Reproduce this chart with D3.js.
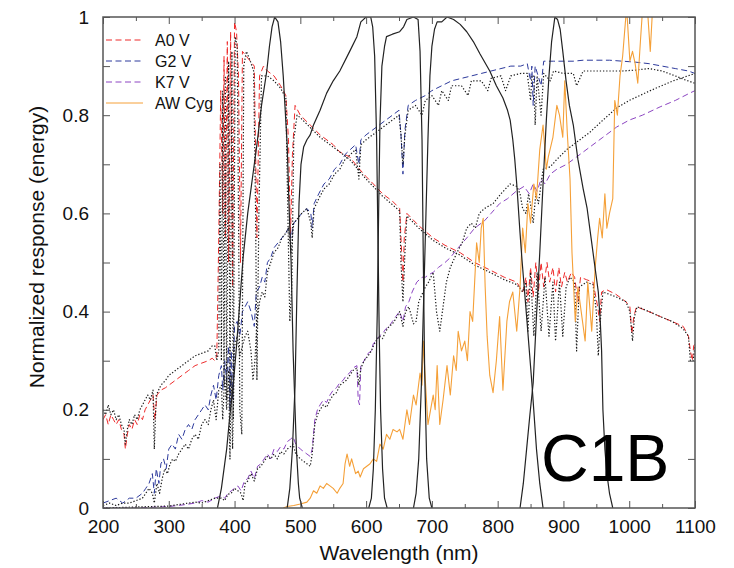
<!DOCTYPE html>
<html>
<head>
<meta charset="utf-8">
<script src="https://cdn.jsdelivr.net/npm/d3@7"></script>
<style>
	body { margin: 0; background: #fff; }
	svg { display: block; font-family: "Liberation Sans", Arial, Helvetica, sans-serif; }
</style>
</head>
<body>
<div id="paper"></div>
<script>
// all series are [wavelength (nm), normalized response]
const a0v = [[200,.18],[204,.19],[208,.17],[212,.19],[216,.18],[220,.17],[224,.18],[228,.16],[232,.15],[234,.12],[237,.15],[240,.17],[244,.16],[248,.18],[252,.17],[256,.19],[260,.18],[264,.20],[268,.21],[272,.22],[276,.23],[279,.18],[282,.23],[288,.24],[295,.245],[300,.25],[310,.26],[320,.27],[330,.28],[340,.29],[350,.295],[360,.30],[366,.305],[370,.30],[373,.31],[376,.55],[379,.85],[382,.60],[384,.92],[386,.55],[389,.95],[391,.50],[394,.97],[397,.45],[400,.99],[403,.97],[406,.88],[409,.50],[412,.93],[418,.92],[424,.91],[430,.90],[434,.55],[438,.88],[444,.90],[450,.89],[460,.88],[470,.86],[478,.84],[482,.75],[485,.55],[488,.72],[492,.82],[500,.80],[515,.78],[530,.76],[550,.74],[560,.725],[575,.715],[590,.69],[600,.675],[611,.66],[625,.64],[640,.625],[651,.61],[654,.52],[656,.46],[658,.55],[662,.60],[680,.575],[702,.55],[720,.535],[743,.52],[765,.50],[788,.485],[810,.47],[829,.46],[838,.44],[843,.47],[846,.42],[850,.49],[854,.43],[858,.50],[862,.44],[866,.50],[870,.45],[875,.50],[879,.46],[884,.49],[888,.44],[893,.49],[897,.45],[902,.48],[906,.46],[912,.48],[917,.47],[922,.42],[926,.47],[935,.465],[945,.46],[952,.41],[955,.38],[958,.44],[965,.445],[980,.435],[995,.42],[1001,.41],[1004,.355],[1007,.39],[1011,.41],[1030,.40],[1047,.39],[1065,.38],[1082,.37],[1090,.35],[1093,.32],[1096,.30],[1098,.33],[1100,.335]];

const a0vRef = [[200,.20],[204,.19],[208,.21],[212,.19],[216,.20],[220,.18],[224,.19],[228,.17],[232,.16],[234,.13],[237,.16],[240,.18],[244,.17],[248,.19],[252,.18],[256,.20],[260,.21],[264,.22],[268,.23],[272,.22],[276,.24],[278,.12],[281,.23],[288,.25],[295,.26],[300,.27],[310,.28],[320,.29],[330,.30],[340,.31],[350,.315],[360,.32],[366,.33],[370,.33],[373,.30],[376,.32],[378,.70],[380,.30],[382,.85],[384,.25],[386,.88],[388,.22],[391,.91],[393,.20],[396,.93],[398,.18],[401,.96],[404,.94],[406,.60],[408,.20],[411,.15],[414,.90],[418,.93],[424,.91],[429,.89],[432,.60],[434,.26],[437,.60],[441,.88],[450,.88],[460,.87],[470,.855],[478,.835],[481,.60],[484,.38],[487,.45],[490,.75],[495,.80],[500,.795],[515,.775],[530,.755],[550,.735],[575,.71],[600,.67],[625,.635],[651,.605],[653,.50],[656,.42],[659,.52],[662,.595],[680,.57],[702,.545],[720,.53],[743,.515],[765,.495],[788,.48],[810,.465],[829,.455],[838,.44],[843,.46],[846,.36],[850,.48],[855,.35],[860,.48],[866,.36],[872,.47],[878,.35],[884,.46],[888,.34],[894,.46],[899,.35],[904,.45],[910,.47],[917,.46],[920,.32],[924,.45],[935,.46],[945,.455],[950,.40],[953,.31],[956,.38],[960,.44],[980,.43],[995,.42],[1001,.40],[1005,.34],[1008,.39],[1012,.41],[1030,.40],[1047,.39],[1065,.38],[1082,.365],[1090,.35],[1093,.30],[1097,.30],[1100,.33]];

const g2v = [[200,.01],[210,.015],[220,.02],[230,.01],[240,.02],[250,.02],[260,.03],[265,.04],[270,.05],[275,.07],[278,.03],[281,.08],[285,.05],[288,.09],[292,.10],[296,.08],[300,.12],[305,.13],[310,.12],[315,.15],[320,.14],[325,.16],[330,.17],[335,.16],[340,.18],[345,.19],[350,.20],[355,.21],[360,.20],[364,.23],[368,.25],[372,.22],[376,.27],[380,.29],[382,.24],[385,.30],[388,.26],[391,.33],[393,.20],[395,.32],[397,.22],[400,.37],[404,.38],[408,.35],[412,.40],[416,.41],[420,.42],[425,.40],[430,.37],[433,.44],[438,.45],[442,.47],[446,.46],[450,.50],[455,.51],[460,.53],[466,.54],[472,.55],[478,.56],[482,.57],[486,.55],[490,.58],[496,.59],[502,.60],[510,.61],[516,.60],[518,.57],[521,.62],[528,.64],[536,.66],[544,.67],[552,.69],[560,.70],[568,.72],[576,.73],[584,.74],[589,.70],[592,.75],[600,.76],[610,.77],[620,.78],[630,.79],[640,.80],[650,.81],[653,.76],[656,.68],[659,.77],[664,.82],[675,.83],[690,.84],[700,.85],[715,.86],[730,.87],[745,.875],[760,.88],[775,.885],[790,.89],[805,.895],[820,.90],[835,.90],[845,.905],[850,.87],[852,.90],[854,.82],[857,.90],[866,.86],[870,.91],[885,.91],[900,.91],[915,.91],[930,.912],[950,.912],[970,.912],[990,.91],[1010,.908],[1030,.905],[1050,.90],[1070,.895],[1090,.89],[1100,.885]];

const g2vRef = [[200,.005],[210,.01],[220,.005],[230,.01],[240,.01],[250,.015],[260,.02],[265,.03],[270,.04],[275,.03],[278,.01],[282,.05],[286,.03],[290,.06],[294,.08],[298,.07],[302,.09],[306,.10],[310,.095],[315,.11],[320,.12],[325,.13],[330,.12],[335,.14],[340,.15],[345,.14],[350,.17],[355,.18],[360,.17],[364,.20],[368,.22],[372,.18],[376,.24],[380,.25],[382,.18],[385,.27],[388,.20],[391,.28],[393,.10],[395,.27],[397,.12],[400,.33],[404,.35],[408,.31],[412,.33],[416,.35],[420,.36],[425,.32],[428,.26],[431,.30],[434,.38],[438,.42],[442,.44],[446,.43],[450,.48],[455,.50],[460,.52],[466,.53],[472,.55],[478,.56],[482,.57],[486,.52],[490,.58],[496,.59],[502,.60],[510,.61],[516,.58],[518,.55],[521,.61],[528,.63],[536,.65],[544,.66],[552,.68],[560,.69],[568,.71],[576,.72],[584,.73],[589,.67],[592,.74],[600,.75],[610,.76],[620,.77],[630,.78],[640,.79],[650,.80],[653,.76],[656,.70],[659,.76],[664,.81],[675,.82],[685,.80],[690,.83],[700,.84],[710,.82],[715,.85],[725,.83],[730,.86],[745,.86],[755,.84],[760,.87],[775,.87],[785,.85],[790,.875],[805,.88],[812,.85],[820,.88],[835,.885],[845,.885],[850,.83],[852,.88],[855,.88],[857,.78],[860,.88],[866,.80],[870,.885],[880,.87],[885,.89],[900,.885],[915,.885],[920,.86],[930,.89],[950,.89],[970,.89],[990,.89],[1010,.892],[1030,.895],[1050,.89],[1070,.88],[1085,.872],[1100,.865]];

const k7v = [[200,0],[250,0],[300,.003],[320,.006],[340,.01],[350,.015],[360,.012],[370,.02],[380,.025],[385,.02],[390,.03],[395,.035],[400,.04],[405,.045],[410,.035],[415,.055],[420,.06],[425,.075],[430,.06],[435,.085],[440,.09],[445,.10],[450,.11],[455,.10],[460,.12],[465,.115],[470,.125],[475,.12],[480,.135],[485,.14],[489,.145],[493,.13],[500,.12],[505,.115],[510,.11],[515,.105],[518,.12],[522,.18],[526,.20],[530,.21],[535,.22],[540,.215],[545,.23],[550,.24],[555,.245],[560,.255],[565,.26],[570,.27],[575,.275],[580,.285],[586,.29],[588,.22],[590,.21],[592,.29],[597,.30],[603,.315],[608,.32],[611,.335],[615,.34],[620,.35],[625,.355],[630,.365],[635,.37],[640,.38],[645,.39],[651,.40],[656,.38],[660,.41],[665,.42],[670,.44],[677,.46],[685,.47],[690,.47],[695,.475],[702,.48],[710,.49],[720,.50],[728,.51],[740,.53],[753,.55],[765,.57],[780,.585],[790,.60],[803,.62],[815,.63],[828,.645],[840,.655],[848,.64],[854,.66],[860,.645],[866,.67],[872,.66],[880,.68],[890,.69],[905,.70],[920,.715],[940,.735],[960,.755],[981,.776],[1000,.79],[1020,.80],[1047,.817],[1070,.83],[1092,.845],[1100,.85]];

const k7vRef = [[200,0],[250,.002],[300,.004],[320,.008],[340,.012],[350,.01],[360,.015],[370,.02],[380,.02],[385,.015],[390,.028],[395,.03],[400,.04],[405,.035],[410,.03],[413,.015],[416,.05],[420,.055],[425,.07],[430,.055],[435,.08],[440,.085],[445,.095],[450,.105],[455,.10],[460,.11],[465,.10],[470,.115],[475,.11],[480,.12],[485,.125],[489,.13],[493,.11],[500,.10],[505,.095],[510,.09],[515,.085],[518,.11],[522,.17],[526,.19],[530,.20],[535,.21],[540,.205],[545,.22],[550,.23],[555,.235],[560,.25],[565,.255],[570,.26],[575,.27],[580,.28],[586,.285],[589,.25],[592,.285],[597,.30],[603,.31],[608,.32],[611,.33],[615,.34],[620,.35],[625,.345],[630,.36],[635,.37],[640,.375],[645,.385],[651,.40],[656,.37],[660,.40],[665,.41],[672,.375],[676,.38],[680,.42],[690,.45],[695,.46],[702,.48],[707,.40],[712,.36],[716,.40],[722,.46],[728,.49],[738,.52],[746,.54],[753,.57],[760,.58],[766,.57],[772,.60],[780,.61],[793,.62],[805,.64],[819,.66],[829,.655],[834,.64],[838,.61],[843,.60],[847,.64],[851,.61],[854,.58],[858,.64],[862,.62],[869,.69],[880,.695],[890,.71],[905,.73],[915,.74],[930,.755],[940,.765],[960,.79],[981,.815],[1000,.83],[1032,.85],[1067,.87],[1100,.885]];

const awCyg = [[474,0],[480,.003],[490,.005],[500,.008],[510,.012],[515,.02],[520,.035],[525,.03],[530,.045],[535,.04],[540,.05],[545,.045],[550,.04],[556,.03],[560,.04],[565,.05],[568,.09],[571,.11],[575,.085],[578,.10],[580,.09],[584,.07],[588,.075],[591,.063],[596,.08],[601,.085],[606,.09],[611,.10],[616,.095],[621,.13],[626,.12],[631,.15],[636,.14],[641,.16],[647,.155],[651,.16],[656,.14],[662,.20],[666,.17],[672,.23],[676,.21],[682,.275],[685,.25],[687,.34],[690,.26],[694,.17],[698,.20],[702,.23],[705,.20],[708,.29],[712,.17],[717,.22],[723,.29],[728,.23],[733,.31],[737,.28],[740,.36],[745,.32],[750,.34],[754,.30],[758,.40],[762,.38],[765,.46],[768,.54],[772,.50],[775,.57],[778,.59],[781,.45],[784,.35],[788,.27],[793,.235],[798,.30],[803,.39],[808,.24],[814,.38],[818,.42],[823,.44],[829,.36],[834,.45],[838,.57],[842,.52],[846,.62],[850,.58],[855,.66],[859,.63],[864,.73],[869,.78],[874,.69],[877,.715],[884,.755],[890,.82],[894,.80],[899,.755],[902,.87],[906,.76],[910,.67],[913,.52],[918,.38],[922,.45],[927,.40],[933,.34],[937,.46],[943,.36],[948,.485],[952,.55],[955,.59],[959,.55],[963,.64],[966,.57],[970,.60],[975,.63],[978,.83],[982,.80],[986,.88],[990,.92],[996,1.02],[1001,.91],[1005,.93],[1009,.905],[1013,.865],[1017,.95],[1021,1.03],[1026,1.05],[1032,.93],[1036,1.03],[1042,1.10],[1050,1.15],[1060,1.2],[1080,1.25],[1100,1.3]];

// C1B filter passbands
const filter1 = [[374,0],[380,.04],[385,.09],[388,.12],[393,.19],[398,.25],[403,.33],[408,.42],[413,.51],[420,.60],[427,.67],[434,.74],[441,.82],[449,.89],[453,.94],[457,.98],[461,1],[466,.99],[470,.95],[474,.88],[477,.81],[480,.74],[482,.65],[484,.57],[486,.5],[489,.32],[492,.2],[494,.12],[497,.05],[499,.02],[503,0]];
const filter2 = [[480,0],[484,.04],[488,.12],[492,.25],[495,.45],[498,.62],[501,.70],[505,.735],[510,.75],[515,.76],[520,.78],[530,.81],[540,.845],[550,.87],[560,.89],[575,.93],[586,.96],[592,.99],[600,1],[607,1],[610,.98],[613,.92],[616,.75],[618,.55],[620,.35],[622,.2],[625,.08],[628,.02],[632,0]];
const filter3 = [[604,0],[608,.02],[611,.08],[614,.2],[617,.4],[619,.6],[621,.78],[624,.9],[628,.94],[631,.96],[640,.965],[651,.97],[657,.98],[662,.995],[672,1],[679,.995],[682,.93],[685,.75],[687,.5],[689,.28],[692,.1],[696,.02],[700,0]];
const filter4 = [[672,0],[676,.03],[680,.1],[684,.25],[688,.45],[691,.6],[694,.75],[697,.88],[700,.94],[704,.975],[708,.99],[715,.99],[723,1],[733,.995],[743,.985],[753,.97],[763,.95],[773,.925],[788,.89],[798,.86],[808,.835],[815,.81],[819,.79],[823,.75],[826,.71],[829,.66],[831,.62],[834,.56],[837,.505],[844,.39],[852,.255],[859,.12],[864,.05],[869,0]];
const filter5 = [[834,0],[839,.05],[844,.12],[849,.19],[854,.255],[859,.39],[864,.52],[869,.66],[874,.79],[878,.88],[882,.95],[887,1],[891,.995],[895,.975],[899,.93],[904,.87],[909,.82],[915,.78],[922,.71],[930,.65],[936,.61],[942,.55],[946,.51],[950,.47],[953,.44],[956,.38],[958,.32],[960,.2],[963,.12],[966,.07],[970,.03],[975,0]];

const xMajor = [200, 300, 400, 500, 600, 700, 800, 900, 1000, 1100];
const xMinor = [250, 350, 450, 550, 650, 750, 850, 950, 1050];
const yTickVals = [0, 0.1, 0.2, 0.3, 0.4, 0.5, 0.6, 0.7, 0.8, 0.9, 1];
const yLabels = ["0", "", "0.2", "", "0.4", "", "0.6", "", "0.8", "", "1"];
const legendNames = ["A0 V", "G2 V", "K7 V", "AW Cyg"];
const panelName = "C1B";

const W = 734, H = 568;
const box = {left: 103, right: 695, top: 17, bottom: 508};

const x = d3.scaleLinear().domain([200, 1100]).range([box.left, box.right]);
const y = d3.scaleLinear().domain([0, 1]).range([box.bottom, box.top]);

const svg = d3.create("svg")
	.attr("width", W)
	.attr("height", H)
	.attr("viewBox", [0, 0, W, H]);

svg.append("defs").append("clipPath")
	.attr("id", "plotclip")
	.append("rect")
	.attr("x", box.left)
	.attr("y", box.top)
	.attr("width", box.right - box.left)
	.attr("height", box.bottom - box.top);

const line = d3.line().x(d => x(d[0])).y(d => y(d[1]));

// style for each drawn series, drawn in this order
const series = [
	{data: a0v, stroke: "#ee2a2a", dash: "6,3.5", width: 1},
	{data: g2v, stroke: "#2d3a9c", dash: "6,3.5", width: 1},
	{data: k7v, stroke: "#8c45c2", dash: "6,3.5", width: 1},
	{data: a0vRef, stroke: "#1a1a1a", dash: "1.3,1.9", width: 1.2},
	{data: g2vRef, stroke: "#1a1a1a", dash: "1.3,1.9", width: 1.2},
	{data: k7vRef, stroke: "#1a1a1a", dash: "1.3,1.9", width: 1.2},
	{data: awCyg, stroke: "#f5a038", dash: null, width: 1.1},
	{data: filter1, stroke: "#222", dash: null, width: 1.2},
	{data: filter2, stroke: "#222", dash: null, width: 1.2},
	{data: filter3, stroke: "#222", dash: null, width: 1.2},
	{data: filter4, stroke: "#222", dash: null, width: 1.2},
	{data: filter5, stroke: "#222", dash: null, width: 1.2}
];

svg.append("g")
	.attr("clip-path", "url(#plotclip)")
	.attr("fill", "none")
	.selectAll("path")
	.data(series)
	.join("path")
	.attr("stroke", d => d.stroke)
	.attr("stroke-width", d => d.width)
	.attr("stroke-dasharray", d => d.dash)
	.attr("stroke-linejoin", "round")
	.attr("d", d => line(d.data));

// axes, ticks pointing inward
const tickColor = "#555";
const styleAxis = g => {
	g.select(".domain").remove();
	g.selectAll(".tick line").attr("stroke", tickColor).attr("stroke-width", 1);
	g.selectAll(".tick text").attr("fill", "#111");
};

svg.append("g")
	.attr("transform", `translate(0,${box.bottom})`)
	.call(d3.axisBottom(x).tickValues(xMajor).tickSize(-7).tickPadding(12).tickFormat(d3.format("d")))
	.attr("font-size", 19)
	.attr("font-family", null)
	.call(styleAxis);
svg.append("g")
	.attr("transform", `translate(0,${box.bottom})`)
	.call(d3.axisBottom(x).tickValues(xMinor).tickSize(-4).tickFormat(""))
	.call(styleAxis);
svg.append("g")
	.attr("transform", `translate(0,${box.top})`)
	.call(d3.axisTop(x).tickValues(xMajor).tickSize(-7).tickFormat(""))
	.call(styleAxis);
svg.append("g")
	.attr("transform", `translate(0,${box.top})`)
	.call(d3.axisTop(x).tickValues(xMinor).tickSize(-4).tickFormat(""))
	.call(styleAxis);
svg.append("g")
	.attr("transform", `translate(${box.left},0)`)
	.call(d3.axisLeft(y).tickValues(yTickVals).tickSize(-7).tickPadding(14).tickFormat((d, i) => yLabels[i]))
	.attr("font-size", 19)
	.attr("font-family", null)
	.call(styleAxis);
svg.append("g")
	.attr("transform", `translate(${box.right},0)`)
	.call(d3.axisRight(y).tickValues(yTickVals).tickSize(-7).tickFormat(""))
	.call(styleAxis);

svg.append("rect")
	.attr("x", box.left)
	.attr("y", box.top)
	.attr("width", box.right - box.left)
	.attr("height", box.bottom - box.top)
	.attr("fill", "none")
	.attr("stroke", tickColor)
	.attr("stroke-width", 1.5);

// axis titles
svg.append("text")
	.attr("x", (box.left + box.right) / 2)
	.attr("y", 560)
	.attr("text-anchor", "middle")
	.attr("font-size", 21)
	.attr("fill", "#111")
	.text("Wavelength (nm)");

svg.append("text")
	.attr("transform", `translate(44,247) rotate(-90)`)
	.attr("text-anchor", "middle")
	.attr("font-size", 21)
	.attr("fill", "#111")
	.text("Normalized response (energy)");

// legend
const legend = svg.append("g")
	.selectAll("g")
	.data(legendNames)
	.join("g")
	.attr("transform", (d, i) => `translate(106,${40 + i * 21})`);

legend.append("line")
	.attr("x1", 0)
	.attr("x2", 37)
	.attr("stroke", (d, i) => series[i === 3 ? 6 : i].stroke)
	.attr("stroke-width", 1)
	.attr("stroke-dasharray", (d, i) => series[i === 3 ? 6 : i].dash);

legend.append("text")
	.attr("x", 49)
	.attr("dy", "0.35em")
	.attr("font-size", 16)
	.attr("fill", "#111")
	.text(d => d);

svg.append("text")
	.attr("x", 541)
	.attr("y", 481)
	.attr("font-size", 66)
	.attr("fill", "#000")
	.text(panelName);

paper.replaceChildren(svg.node());
</script>
</body>
</html>
